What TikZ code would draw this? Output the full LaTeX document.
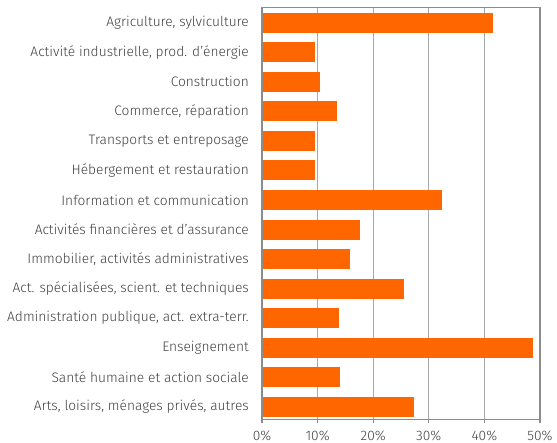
\documentclass[tikz,border=0pt]{standalone}
\usepackage{fontspec}
\setmainfont{Fira Sans}[UprightFont={* Light}]
\definecolor{barc}{HTML}{FF6600}
\definecolor{txt}{HTML}{404040}
\definecolor{gridc}{HTML}{A8A8A8}
\definecolor{framec}{HTML}{8C8C8C}
\begin{document}
\begin{tikzpicture}[x=1bp,y=-1bp,
  bar/.style={fill=barc,draw=none},
  catlabel/.style={anchor=east,text=txt,font=\fontsize{13.8}{15}\selectfont,inner sep=0pt},
  ticklabel/.style={anchor=base,text=txt,font=\fontsize{13.8}{15}\selectfont,inner sep=0pt},
  gridline/.style={draw=gridc,line width=1.2bp},
  framel/.style={draw=framec,line width=1.2bp}]
\useasboundingbox (0,0) rectangle (557,443);
\def\xz{262}\def\xs{5.56}
% grid
\foreach \p in {10,20,30,40}
  \draw[gridline] ({\xz+\p*\xs},7.3) -- ({\xz+\p*\xs},419.3);
\draw[framel] (\xz,7.3) -- (540,7.3) -- (540,419.3);
% bars
\foreach \i/\v/\t in {
  0/41.5/{Agriculture, sylviculture},
  1/9.5/{Activité industrielle, prod. d'énergie},
  2/10.4/{Construction},
  3/13.5/{Commerce, réparation},
  4/9.5/{Transports et entreposage},
  5/9.5/{Hébergement et restauration},
  6/32.4/{Information et communication},
  7/17.6/{Activités financières et d'assurance},
  8/15.8/{Immobilier, activités administratives},
  9/25.5/{Act. spécialisées, scient. et techniques},
  10/13.8/{Administration publique, act. extra-terr.},
  11/48.7/{Enseignement},
  12/14.0/{Santé humaine et action sociale},
  13/27.3/{Arts, loisirs, ménages privés, autres}} {
  \pgfmathsetmacro{\yc}{22.8+\i*29.53}
  \fill[bar] (\xz,{\yc-10}) rectangle ({\xz+\v*\xs},{\yc+10});
  \node[catlabel] (c\i) at (249,\yc) {\t};
}
% axes
\draw[framel] (\xz,7.3) -- (\xz,419.3) -- (540,419.3);
\foreach \p in {0,10,20,30,40,50} {
  \draw[framel] ({\xz+\p*\xs},419.3) -- ({\xz+\p*\xs},422.5);
  \node[ticklabel] (t\p) at ({\xz+\p*\xs},440.3) {\p\%};
}
\end{tikzpicture}
\end{document}
